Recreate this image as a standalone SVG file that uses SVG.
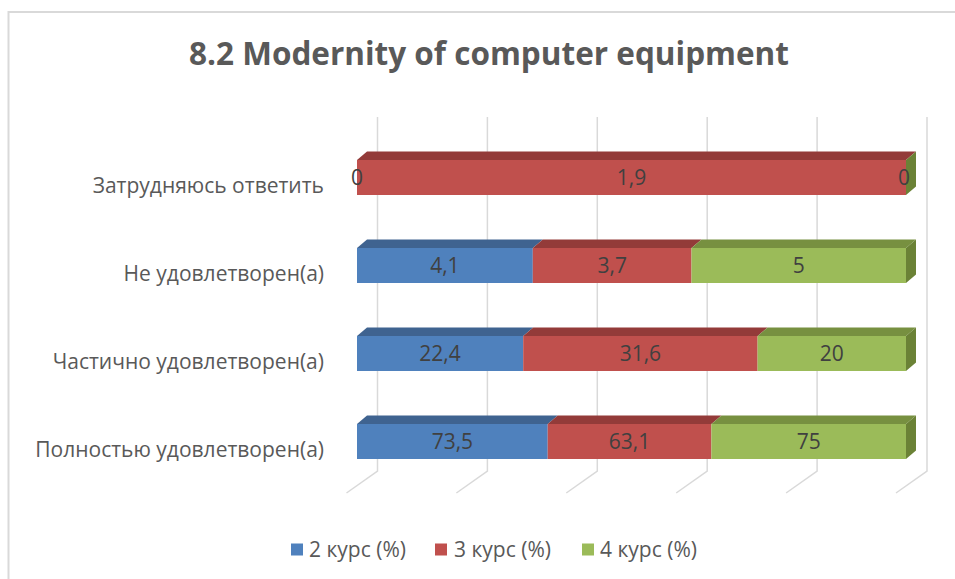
<svg xmlns="http://www.w3.org/2000/svg" width="955" height="579" viewBox="0 0 955 579">
<style>
.grid{stroke:#d9d9d9;stroke-width:1.5;fill:none}
.b{fill:#4f81bd}.bt{fill:#3f6390}
.r{fill:#c0504d}.rt{fill:#933b39}
.g{fill:#9bbb59}.gt{fill:#779040}.gs{fill:#6b8236}
.cat{font-family:"Open Sans","Liberation Sans",Arial,sans-serif;font-size:21px;fill:#595959;text-anchor:end}
.val{font-family:"Open Sans","Liberation Sans",Arial,sans-serif;font-size:21px;fill:#404040;text-anchor:middle}
.leg{font-family:"Open Sans","Liberation Sans",Arial,sans-serif;font-size:21px;fill:#595959}
.title{font-family:"Open Sans","Liberation Sans",Arial,sans-serif;font-size:31.5px;font-weight:bold;fill:#595959;text-anchor:middle}
</style>
<rect x="0" y="0" width="955" height="579" fill="#ffffff"/>
<path d="M8.5 579 V12 H955" stroke="#d9d9d9" stroke-width="2" fill="none"/>
<text class="title" x="489" y="65">8.2 Modernity of computer equipment</text>
<g id="gridlines">
<path class="grid" d="M377.5 117 V471 L346.5 493"/>
<path class="grid" d="M487.4 117 V471 L456.4 493"/>
<path class="grid" d="M597.3 117 V471 L566.3 493"/>
<path class="grid" d="M707.2 117 V471 L676.2 493"/>
<path class="grid" d="M817.1 117 V471 L786.1 493"/>
<path class="grid" d="M927 117 V471 L896 493"/>
</g>
<g id="categories">
<text class="cat" x="324" y="193">Затрудняюсь ответить</text>
<text class="cat" x="324" y="281">Не удовлетворен(а)</text>
<text class="cat" x="324" y="369">Частично удовлетворен(а)</text>
<text class="cat" x="324" y="457">Полностью удовлетворен(а)</text>
</g>
<g id="bar-zatrudnyayus">
<polygon class="rt" points="357,160 367,151.5 916,151.5 906,160"/>
<rect class="r" x="357" y="160" width="549" height="35"/>
<polygon class="gs" points="906,160 916,151.5 916,186.5 906,195"/>
<text class="val" x="357" y="185">0</text>
<text class="val" x="631.5" y="185">1,9</text>
<text class="val" x="904" y="185">0</text>
</g>
<g id="bar-ne-udovletvoren">
<polygon class="bt" points="357,248 367,239.5 542.8,239.5 532.8,248"/>
<polygon class="rt" points="532.8,248 542.8,239.5 701.5,239.5 691.5,248"/>
<polygon class="gt" points="691.5,248 701.5,239.5 916,239.5 906,248"/>
<rect class="b" x="357" y="248" width="175.8" height="35"/>
<rect class="r" x="532.8" y="248" width="158.7" height="35"/>
<rect class="g" x="691.5" y="248" width="214.5" height="35"/>
<polygon class="gs" points="906,248 916,239.5 916,274.5 906,283"/>
<text class="val" x="444.9" y="273">4,1</text>
<text class="val" x="612.2" y="273">3,7</text>
<text class="val" x="798.8" y="273">5</text>
</g>
<g id="bar-chastichno">
<polygon class="bt" points="357,336 367,327.5 533.2,327.5 523.2,336"/>
<polygon class="rt" points="523.2,336 533.2,327.5 767.6,327.5 757.6,336"/>
<polygon class="gt" points="757.6,336 767.6,327.5 916,327.5 906,336"/>
<rect class="b" x="357" y="336" width="166.2" height="35"/>
<rect class="r" x="523.2" y="336" width="234.4" height="35"/>
<rect class="g" x="757.6" y="336" width="148.4" height="35"/>
<polygon class="gs" points="906,336 916,327.5 916,362.5 906,371"/>
<text class="val" x="440.1" y="361">22,4</text>
<text class="val" x="640.4" y="361">31,6</text>
<text class="val" x="831.8" y="361">20</text>
</g>
<g id="bar-polnostyu">
<polygon class="bt" points="357,424 367,415.5 557.7,415.5 547.7,424"/>
<polygon class="rt" points="547.7,424 557.7,415.5 721.4,415.5 711.4,424"/>
<polygon class="gt" points="711.4,424 721.4,415.5 916,415.5 906,424"/>
<rect class="b" x="357" y="424" width="190.7" height="35"/>
<rect class="r" x="547.7" y="424" width="163.7" height="35"/>
<rect class="g" x="711.4" y="424" width="194.6" height="35"/>
<polygon class="gs" points="906,424 916,415.5 916,450.5 906,459"/>
<text class="val" x="452.4" y="449">73,5</text>
<text class="val" x="629.6" y="449">63,1</text>
<text class="val" x="808.7" y="449">75</text>
</g>
<g id="legend">
<rect class="b" x="291" y="543.5" width="12" height="12"/>
<text class="leg" x="309" y="557">2 курс (%)</text>
<rect class="r" x="435" y="543.5" width="12" height="12"/>
<text class="leg" x="454" y="557">3 курс (%)</text>
<rect class="g" x="582" y="543.5" width="12" height="12"/>
<text class="leg" x="600" y="557">4 курс (%)</text>
</g>
</svg>
